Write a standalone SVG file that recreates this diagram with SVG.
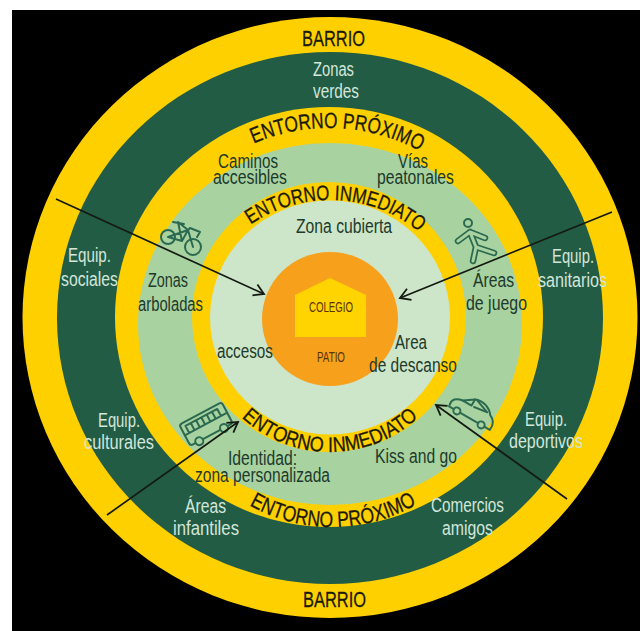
<svg xmlns="http://www.w3.org/2000/svg" width="640" height="631" viewBox="0 0 640 631">
<style>
text{font-family:"Liberation Sans",Arial,sans-serif}
.d{font-size:20px;fill:#1d3a2c}
.l{font-size:20px;fill:#d3e6da}
.h{font-size:22px;fill:#1a1a0a;stroke:#1a1a0a;stroke-width:.3}
.m{font-size:15px;fill:#5a3208}
.c{fill:none;stroke:#141a12;stroke-width:1.7}
.i{fill:none;stroke:#2b6a50;stroke-width:2;stroke-linejoin:round;stroke-linecap:round}
</style>
<defs>
<marker id="a" markerUnits="userSpaceOnUse" markerWidth="16" markerHeight="16" refX="13" refY="8" orient="auto"><path d="M3 2L13 8L3 14" fill="none" stroke="#141a12" stroke-width="1.8"/></marker>
<path id="pt" d="M234 153.5A190 190 0 0 1 424 153.5"/>
<path id="it" d="M230 242A140 140 0 0 1 430 242"/>
<path id="ib" d="M230 405A130 130 0 0 0 430 405"/>
<path id="pb" d="M237 497.6A168 168 0 0 0 427 497.6"/>
</defs>
<rect x="12" y="10" width="628" height="621" fill="#000"/>
<g id="anillos">
<ellipse cx="330" cy="317.5" rx="307.5" ry="300.5" fill="#ffd000"/>
<ellipse cx="330" cy="318" rx="273" ry="266" fill="#225c45"/>
<ellipse cx="329" cy="317" rx="214" ry="210" fill="#ffd000"/>
<ellipse cx="330" cy="324" rx="192" ry="181" fill="#a8d2a0"/>
<ellipse cx="329" cy="317" rx="137" ry="135" fill="#ffd000"/>
<ellipse cx="330" cy="317.5" rx="120" ry="117" fill="#cde5c8"/>
</g>
<g id="patio">
<ellipse cx="330" cy="319" rx="68" ry="67" fill="#f7a01c"/>
<text class="m" x="317" y="362" textLength="28" lengthAdjust="spacingAndGlyphs">PATIO</text>
</g>
<g id="colegio">
<path d="M295 295L330 278L366 295V337H295Z" fill="#ffd400"/>
<text class="m" x="309" y="312" textLength="44" lengthAdjust="spacingAndGlyphs">COLEGIO</text>
</g>
<g id="barrio">
<text class="h" x="302" y="46" textLength="63" lengthAdjust="spacingAndGlyphs">BARRIO</text>
<text class="h" x="303" y="607" textLength="63" lengthAdjust="spacingAndGlyphs">BARRIO</text>
<text class="l" x="313" y="76" textLength="41" lengthAdjust="spacingAndGlyphs">Zonas</text>
<text class="l" x="313" y="98" textLength="46" lengthAdjust="spacingAndGlyphs">verdes</text>
<text class="l" x="68" y="262" textLength="43" lengthAdjust="spacingAndGlyphs">Equip.</text>
<text class="l" x="61" y="286" textLength="57" lengthAdjust="spacingAndGlyphs">sociales</text>
<text class="l" x="98" y="427" textLength="42" lengthAdjust="spacingAndGlyphs">Equip.</text>
<text class="l" x="84" y="449" textLength="70" lengthAdjust="spacingAndGlyphs">culturales</text>
<text class="l" x="185" y="513" textLength="41" lengthAdjust="spacingAndGlyphs">Áreas</text>
<text class="l" x="173" y="535" textLength="66" lengthAdjust="spacingAndGlyphs">infantiles</text>
<text class="l" x="431" y="512" textLength="73" lengthAdjust="spacingAndGlyphs">Comercios</text>
<text class="l" x="442" y="535" textLength="51" lengthAdjust="spacingAndGlyphs">amigos</text>
<text class="l" x="552" y="263" textLength="42" lengthAdjust="spacingAndGlyphs">Equip.</text>
<text class="l" x="538" y="287" textLength="69" lengthAdjust="spacingAndGlyphs">sanitarios</text>
<text class="l" x="525" y="426" textLength="42" lengthAdjust="spacingAndGlyphs">Equip.</text>
<text class="l" x="509" y="448" textLength="74" lengthAdjust="spacingAndGlyphs">deportivos</text>
</g>
<g id="entorno-proximo">
<text class="h"><textPath href="#pt" startOffset="22" textLength="172" lengthAdjust="spacingAndGlyphs">ENTORNO PRÓXIMO</textPath></text>
<text class="h"><textPath href="#pb" startOffset="14.5" textLength="175" lengthAdjust="spacingAndGlyphs">ENTORNO PRÓXIMO</textPath></text>
<text class="d" x="218" y="168" textLength="60" lengthAdjust="spacingAndGlyphs">Caminos</text>
<text class="d" x="213" y="184" textLength="74" lengthAdjust="spacingAndGlyphs">accesibles</text>
<text class="d" x="398" y="168" textLength="30" lengthAdjust="spacingAndGlyphs">Vías</text>
<text class="d" x="377" y="184" textLength="77" lengthAdjust="spacingAndGlyphs">peatonales</text>
<text class="d" x="148" y="287" textLength="40" lengthAdjust="spacingAndGlyphs">Zonas</text>
<text class="d" x="138" y="311" textLength="65" lengthAdjust="spacingAndGlyphs">arboladas</text>
<text class="d" x="473" y="287" textLength="41" lengthAdjust="spacingAndGlyphs">Áreas</text>
<text class="d" x="466" y="310" textLength="61" lengthAdjust="spacingAndGlyphs">de juego</text>
<text class="d" x="228" y="465" textLength="69" lengthAdjust="spacingAndGlyphs">Identidad:</text>
<text class="d" x="195" y="482" textLength="135" lengthAdjust="spacingAndGlyphs">zona personalizada</text>
<text class="d" x="375" y="463" textLength="82" lengthAdjust="spacingAndGlyphs">Kiss and go</text>
</g>
<g id="entorno-inmediato">
<text class="h" style="font-size:21px"><textPath href="#it" startOffset="27" textLength="181" lengthAdjust="spacingAndGlyphs">ENTORNO INMEDIATO</textPath></text>
<text class="h" style="font-size:21px"><textPath href="#ib" startOffset="17" textLength="194" lengthAdjust="spacingAndGlyphs">ENTORNO INMEDIATO</textPath></text>
<text class="d" x="296" y="233" textLength="96" lengthAdjust="spacingAndGlyphs">Zona cubierta</text>
<text class="d" x="217" y="358" textLength="56" lengthAdjust="spacingAndGlyphs">accesos</text>
<text class="d" x="395" y="349" textLength="32" lengthAdjust="spacingAndGlyphs">Area</text>
<text class="d" x="369" y="372" textLength="88" lengthAdjust="spacingAndGlyphs">de descanso</text>
</g>
<g id="icono-bici" class="i">
<circle cx="168" cy="237" r="7"/><circle cx="193" cy="247" r="8"/>
<path d="M168 237L188 230L193 247M168 237L182 241L188 230L178 222M173 222L184 224M188 230L190 228L200 232L197 237M178 222L182 241"/>
</g>
<g id="icono-peaton">
<circle cx="468" cy="223" r="4" class="i"/>
<path d="M458 241L470 232L476 247L473 261M476 247L494 253M470 232L485 238" fill="none" stroke="#2b6a50" stroke-width="6.5" stroke-linecap="round" stroke-linejoin="round"/>
<path d="M458 241L470 232L476 247L473 261M476 247L494 253M470 232L485 238" fill="none" stroke="#a8d2a0" stroke-width="3" stroke-linecap="round" stroke-linejoin="round"/>
</g>
<g id="icono-bus" class="i" transform="rotate(-28 206 424)">
<rect x="182" y="412" width="48" height="24" rx="3"/>
<path d="M182 424H230M187 416V424M193 416V424M199 416V424M205 416V424M211 416V424M217 416V424M223 416V424M187 416H223"/>
<circle cx="192" cy="436" r="4" fill="#a8d2a0"/><circle cx="220" cy="436" r="4" fill="#a8d2a0"/>
</g>
<g id="icono-coche" class="i" transform="translate(5 -1) rotate(30 468 412)">
<path d="M445 420C443 412 447 409 454 408L464 401C471 398 480 400 485 407C490 409 493 413 492 420Z"/>
<path d="M464 401V408H454M467 401L481 406L467 408"/>
<circle cx="454" cy="420" r="3.5" fill="#a8d2a0"/><circle cx="482" cy="420" r="3.5" fill="#a8d2a0"/>
</g>
<g id="conectores">
<line class="c" x1="56" y1="199" x2="264" y2="294" marker-end="url(#a)"/>
<line class="c" x1="612" y1="212" x2="400" y2="298" marker-end="url(#a)"/>
<line class="c" x1="567" y1="499" x2="436" y2="405" marker-end="url(#a)"/>
<line class="c" x1="107" y1="515" x2="238" y2="422" marker-end="url(#a)"/>
</g>
</svg>
